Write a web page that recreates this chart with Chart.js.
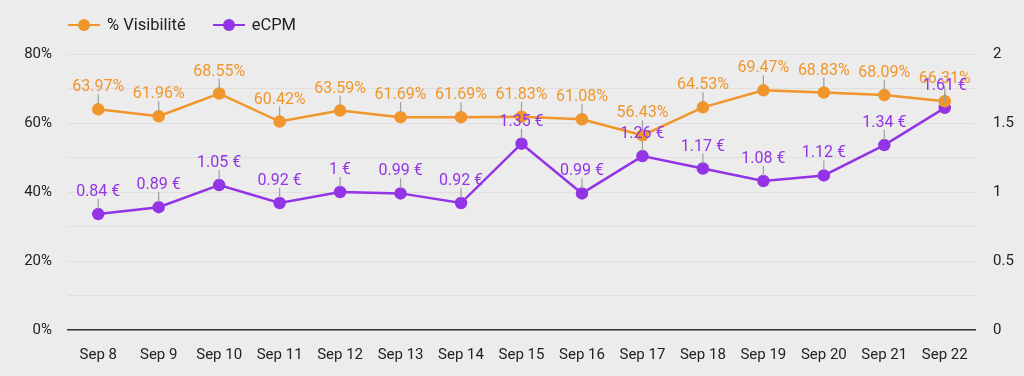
<!DOCTYPE html>
<html>
<head>
<meta charset="utf-8">
<script src="https://cdn.jsdelivr.net/npm/chart.js@4"></script>
<style>
    html, body { margin: 0; padding: 0; background: #ececec; }
    .wrap { position: relative; width: 1024px; height: 376px; }
    .legend { position: absolute; top: 15px; left: 68px; font: 16.5px Roboto, sans-serif; color: #222; display: flex; }
    .legend .item { display: flex; align-items: center; margin-right: 27px; }
    .legend .mark { position: relative; width: 32px; height: 12px; margin-right: 7px; }
    .legend .mark .ln { position: absolute; left: 0; right: 0; top: 5px; height: 2.5px; }
    .legend .mark .dot { position: absolute; left: 10px; top: 0; width: 12px; height: 12px; border-radius: 50%; }
</style>
</head>
<body>
<div class="wrap">
    <canvas id="visChart" width="1024" height="376"></canvas>
    <div class="legend" id="legend"></div>
</div>
<script>
var days = ['Sep 8', 'Sep 9', 'Sep 10', 'Sep 11', 'Sep 12', 'Sep 13', 'Sep 14', 'Sep 15', 'Sep 16', 'Sep 17', 'Sep 18', 'Sep 19', 'Sep 20', 'Sep 21', 'Sep 22'];
var visibilite = [63.97, 61.96, 68.55, 60.42, 63.59, 61.69, 61.69, 61.83, 61.08, 56.43, 64.53, 69.47, 68.83, 68.09, 66.31];
var ecpm = [0.84, 0.89, 1.05, 0.92, 1.00, 0.99, 0.92, 1.35, 0.99, 1.26, 1.17, 1.08, 1.12, 1.34, 1.61];
var seriesNames = ['% Visibilité', 'eCPM'];
var colors = ['#f0962c', '#9334e6'];

// petit plugin pour les étiquettes au-dessus des points
var pointLabels = {
    id: 'pointLabels',
    afterDatasetsDraw: function (chart) {
        var ctx = chart.ctx;
        chart.data.datasets.forEach(function (ds, i) {
            var meta = chart.getDatasetMeta(i);
            meta.data.forEach(function (pt, j) {
                var txt = ds.labelFormat(ds.data[j]);
                ctx.save();
                ctx.strokeStyle = '#9e9e9e';
                ctx.lineWidth = 1.2;
                ctx.beginPath();
                ctx.moveTo(pt.x, pt.y - 5);
                ctx.lineTo(pt.x, pt.y - 15);
                ctx.stroke();
                ctx.fillStyle = ds.borderColor;
                ctx.font = '16px Roboto, sans-serif';
                ctx.textAlign = 'center';
                ctx.textBaseline = 'alphabetic';
                ctx.fillText(txt, pt.x, pt.y - 18);
                ctx.restore();
            });
        });
    }
};

var ctx = document.getElementById('visChart').getContext('2d');
var chart = new Chart(ctx, {
    type: 'line',
    data: {
        labels: days,
        datasets: [{
            label: seriesNames[0],
            data: visibilite,
            yAxisID: 'y',
            borderColor: colors[0],
            backgroundColor: colors[0],
            borderWidth: 2.5,
            pointRadius: 5,
            pointHoverRadius: 5,
            tension: 0,
            labelFormat: function (v) { return v.toFixed(2) + '%'; }
        }, {
            label: seriesNames[1],
            data: ecpm,
            yAxisID: 'y1',
            borderColor: colors[1],
            backgroundColor: colors[1],
            borderWidth: 2.5,
            pointRadius: 5,
            pointHoverRadius: 5,
            tension: 0,
            labelFormat: function (v) { return parseFloat(v.toFixed(2)) + ' €'; }
        }]
    },
    options: {
        responsive: false,
        animation: false,
        layout: { padding: { top: 54, left: 0, right: 0, bottom: 0 } },
        plugins: {
            legend: { display: false },
            tooltip: { enabled: false }
        },
        scales: {
            x: {
                offset: true,
                grid: { display: false },
                border: { display: true, color: '#333', width: 1.5 },
                ticks: { color: '#222', font: { family: 'Roboto', size: 15 }, maxRotation: 0, padding: 8 },
                afterFit: function (s) { s.height = 46; }
            },
            y: {
                position: 'left',
                min: 0,
                max: 80,
                grid: { color: '#dfdfdf', lineWidth: 1, drawTicks: false },
                border: { display: false },
                ticks: {
                    stepSize: 10,
                    color: '#222',
                    font: { family: 'Roboto', size: 15 },
                    padding: 16,
                    callback: function (v) { return v % 20 === 0 ? v + '%' : ''; }
                },
                afterFit: function (s) { s.width = 68; }
            },
            y1: {
                position: 'right',
                min: 0,
                max: 2,
                grid: { drawOnChartArea: false, drawTicks: false },
                border: { display: false },
                ticks: {
                    stepSize: 0.25,
                    color: '#222',
                    font: { family: 'Roboto', size: 15 },
                    padding: 18,
                    callback: function (v) { return (v * 100) % 50 === 0 ? String(v) : ''; }
                },
                afterFit: function (s) { s.width = 49; }
            }
        }
    },
    plugins: [pointLabels]
});

// légende en HTML
var legend = document.getElementById('legend');
seriesNames.forEach(function (name, i) {
    var item = document.createElement('div');
    item.className = 'item';
    item.innerHTML = '<span class="mark"><span class="ln" style="background:' + colors[i] + '"></span>' +
        '<span class="dot" style="background:' + colors[i] + '"></span></span><span>' + name + '</span>';
    legend.appendChild(item);
});
</script>
</body>
</html>
